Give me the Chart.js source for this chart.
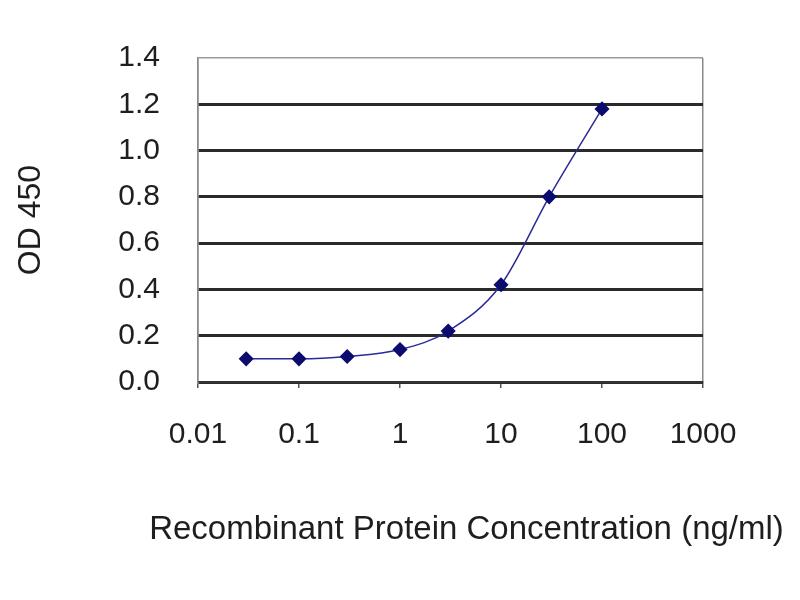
<!DOCTYPE html>
<html>
<head>
<meta charset="utf-8">
<script src="https://cdn.jsdelivr.net/npm/chart.js@4/dist/chart.umd.min.js"></script>
<style>
  html, body { margin: 0; padding: 0; background: #fff; }
  #wrap { width: 800px; height: 600px; }
</style>
</head>
<body>
<div id="wrap"><canvas id="chart" width="800" height="600"></canvas></div>
<script>
// values
const concentrations = [0.03, 0.1, 0.3, 1, 3, 10, 30, 100];
const od450 = [0.10, 0.10, 0.11, 0.14, 0.22, 0.42, 0.80, 1.18];
const xTicks = [0.01, 0.1, 1, 10, 100, 1000];
const yTicks = [0, 0.2, 0.4, 0.6, 0.8, 1.0, 1.2, 1.4];
const xTitle = 'Recombinant Protein Concentration (ng/ml)';

const FONT = '"Liberation Sans", Arial, sans-serif';
const points = concentrations.map((c, i) => ({ x: c, y: od450[i] }));

// x title is wider than the plot in the original, so draw it without the
// maxWidth squeeze chart.js applies to scale titles
const wideXTitle = {
  id: 'wideXTitle',
  afterDraw(chart) {
    const { ctx, scales: { x } } = chart;
    ctx.save();
    ctx.font = '33px ' + FONT;
    ctx.fillStyle = '#1e1e1e';
    ctx.textAlign = 'center';
    ctx.textBaseline = 'middle';
    ctx.fillText(xTitle, (x.left + x.right) / 2 + 16, x.bottom - 20);
    ctx.restore();
  }
};

new Chart(document.getElementById('chart'), {
  type: 'line',
  data: {
    datasets: [{
      data: points,
      borderColor: '#2a2a9a',
      borderWidth: 1.5,
      backgroundColor: '#0c0c6e',
      pointBackgroundColor: '#0c0c6e',
      pointBorderColor: '#0c0c6e',
      pointStyle: 'rectRot',
      pointRadius: 6.5,
      tension: 0.4,
      cubicInterpolationMode: 'monotone'
    }]
  },
  plugins: [wideXTitle],
  options: {
    responsive: false,
    animation: false,
    layout: { padding: { left: 8, top: 58, right: 97, bottom: 50 } },
    plugins: { legend: { display: false }, tooltip: { enabled: false } },
    scales: {
      x: {
        type: 'logarithmic',
        min: 0.01,
        max: 1000,
        afterBuildTicks: s => { s.ticks = xTicks.map(v => ({ value: v })); },
        afterFit: s => { s.height = 600 - 50 - 382; },
        grid: {
          color: ctx => (ctx.tick && (ctx.tick.value === 1000 || ctx.tick.value === 0.01)) ? '#8a8a8a' : 'rgba(0,0,0,0)',
          tickColor: '#555',
          tickLength: 6,
          lineWidth: 1.5
        },
        border: { color: '#333', width: 2.5 },
        ticks: {
          autoSkip: false,
          maxRotation: 0,
          padding: 29,
          color: '#1e1e1e',
          font: { family: FONT, size: 30 },
          callback: v => String(v)
        },
        title: { display: false }
      },
      y: {
        min: 0,
        max: 1.4,
        afterBuildTicks: s => { s.ticks = yTicks.map(v => ({ value: v })); },
        afterFit: s => { s.width = 198 - 8; },
        grid: {
          drawTicks: false,
          color: ctx => (ctx.tick && ctx.tick.value >= 1.39) ? '#9a9a9a' : '#2a2a2a',
          lineWidth: ctx => (ctx.tick && ctx.tick.value >= 1.39) ? 1.5 : 3
        },
        border: { color: '#8a8a8a', width: 1.5 },
        ticks: {
          padding: 38,
          color: '#1e1e1e',
          font: { family: FONT, size: 30 },
          callback: v => Number(v).toFixed(1)
        },
        title: {
          display: true,
          text: 'OD 450',
          color: '#1e1e1e',
          font: { family: FONT, size: 32 }
        }
      }
    }
  }
});
</script>
</body>
</html>
